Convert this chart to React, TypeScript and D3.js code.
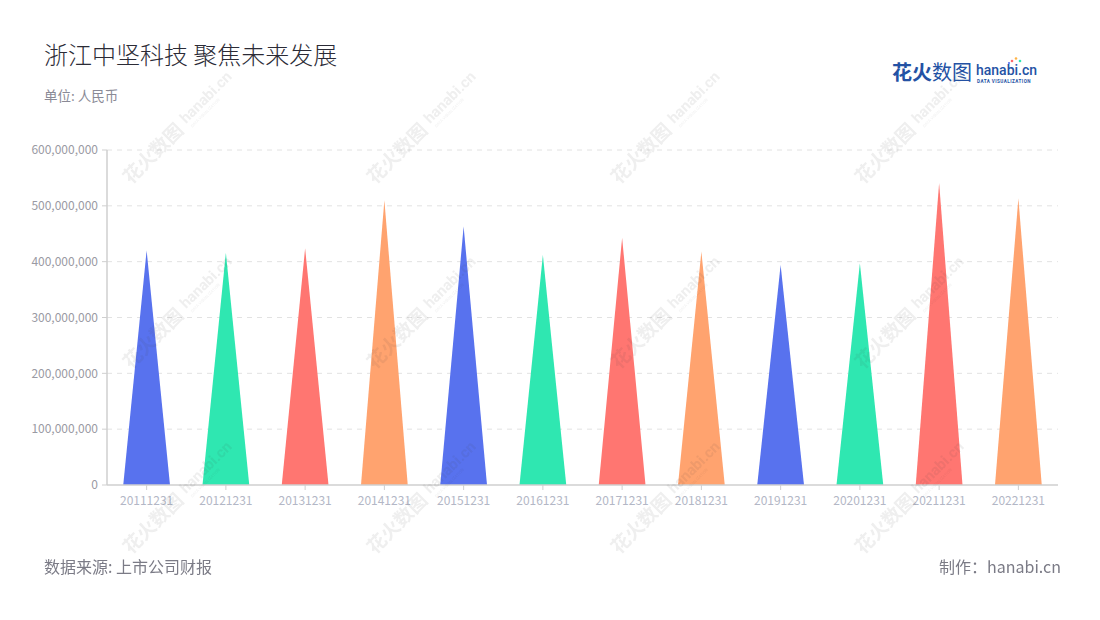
import React from 'react';
import * as d3 from 'd3';

const categories = [
  '20111231', '20121231', '20131231', '20141231', '20151231', '20161231',
  '20171231', '20181231', '20191231', '20201231', '20211231', '20221231',
];
const revenue = [
  420e6, 416e6, 424e6, 510e6, 463e6, 412e6,
  443e6, 418e6, 394e6, 397e6, 541e6, 513e6,
];
const yTicks = [0, 100e6, 200e6, 300e6, 400e6, 500e6, 600e6];
const palette = ['#5872ee', '#2fe7b1', '#ff7671', '#ffa36f'];

const watermarkCols = [184, 428, 672, 916];
const watermarkRows = [122, 307, 492];

const W = 1100;
const H = 620;
const FONT = '"Noto Sans CJK SC", "Noto Sans", sans-serif';

export default function App() {
  const margin = { top: 150, right: 42, bottom: 135, left: 107 };
  const innerW = W - margin.left - margin.right;
  const innerH = H - margin.top - margin.bottom;

  const x = d3.scaleBand<string>().domain(categories).range([0, innerW]);
  const y = d3.scaleLinear().domain([0, 600e6]).range([innerH, 0]);
  const fmt = d3.format(',');
  const barW = x.bandwidth() * 0.59;

  const triangle = (cat: string, v: number) => {
    const cx = (x(cat) ?? 0) + x.bandwidth() / 2;
    const p = d3.path();
    p.moveTo(cx - barW / 2, y(0));
    p.lineTo(cx, y(v));
    p.lineTo(cx + barW / 2, y(0));
    p.closePath();
    return p.toString();
  };

  return (
    <svg
      width={W}
      height={H}
      style={{ position: 'absolute', left: 0, top: 0, background: '#fff' }}
      fontFamily={FONT}
    >
      {/* header */}
      <text x={44} y={64} fontSize={24} fontWeight={300} fill="#2b2b36">浙江中坚科技 聚焦未来发展</text>
      <text x={44} y={101} fontSize={13.5} fill="#8a8a96">单位: 人民币</text>

      {/* logo */}
      <g fill="#2452a4">
        <text x={892} y={80} fontSize={20} fontWeight={700}>花火</text>
        <text x={932} y={80} fontSize={20} fontWeight={400}>数图</text>
        <text x={976} y={75} fontSize={14} fontWeight={500} fontFamily="Roboto, sans-serif">hanabi.cn</text>
        <text x={977} y={82.5} fontSize={4.6} fontWeight={700} letterSpacing={0.45} fontFamily="Roboto, sans-serif">DATA VISUALIZATION</text>
      </g>
      <circle cx={1012} cy={61} r={1.3} fill="#ff6b6b" />
      <circle cx={1016} cy={58.5} r={1.3} fill="#ffb347" />
      <circle cx={1020} cy={61} r={1.3} fill="#2fe7b1" />
      <circle cx={1009} cy={63} r={1.1} fill="#5872ee" />

      <g transform={`translate(${margin.left},${margin.top})`}>
        {/* grid */}
        {yTicks.filter((t) => t > 0).map((t) => (
          <line
            key={t}
            x1={0}
            x2={innerW}
            y1={y(t)}
            y2={y(t)}
            stroke="#e2e2e2"
            strokeDasharray="5,5"
          />
        ))}
        {/* y axis */}
        <line x1={0} x2={0} y1={0} y2={innerH} stroke="#cfcfcf" strokeWidth={1.5} />
        {yTicks.map((t) => (
          <g key={t} transform={`translate(0,${y(t)})`}>
            <line x1={-5} x2={0} stroke="#cfcfcf" />
            <text x={-9} dy="0.35em" textAnchor="end" fontSize={12} fill="#9a9aa3">
              {fmt(t)}
            </text>
          </g>
        ))}

        {/* bars */}
        {categories.map((c, i) => (
          <path key={c} d={triangle(c, revenue[i])} fill={palette[i % palette.length]} />
        ))}

        {/* x axis */}
        <line x1={0} x2={innerW} y1={innerH} y2={innerH} stroke="#cfcfcf" strokeWidth={1.5} />
        {categories.map((c) => {
          const cx = (x(c) ?? 0) + x.bandwidth() / 2;
          return (
            <g key={c} transform={`translate(${cx},${innerH})`}>
              <line y1={0} y2={5} stroke="#cfcfcf" />
              <text y={20} textAnchor="middle" fontSize={12} fill="#b3b7c6">{c}</text>
            </g>
          );
        })}
      </g>

      {/* watermarks */}
      <g opacity={0.09} fill="#444" pointerEvents="none">
        {watermarkRows.map((ry) =>
          watermarkCols.map((rx) => (
            <g key={`${rx}-${ry}`} transform={`translate(${rx},${ry}) rotate(-45)`}>
              <text x={-82} y={7} fontSize={19} fontWeight={700}>花火数图</text>
              <text x={0} y={3} fontSize={15} fontWeight={700} fontFamily="Roboto, sans-serif">hanabi.cn</text>
              <text x={2} y={10} fontSize={4} fontFamily="Roboto, sans-serif">DATA VISUALIZATION</text>
            </g>
          ))
        )}
      </g>

      {/* footer */}
      <text x={44} y={573} fontSize={16} fill="#7b7b86">数据来源: 上市公司财报</text>
      <text x={1061} y={573} fontSize={16} fill="#7b7b86" textAnchor="end">制作：hanabi.cn</text>
    </svg>
  );
}
